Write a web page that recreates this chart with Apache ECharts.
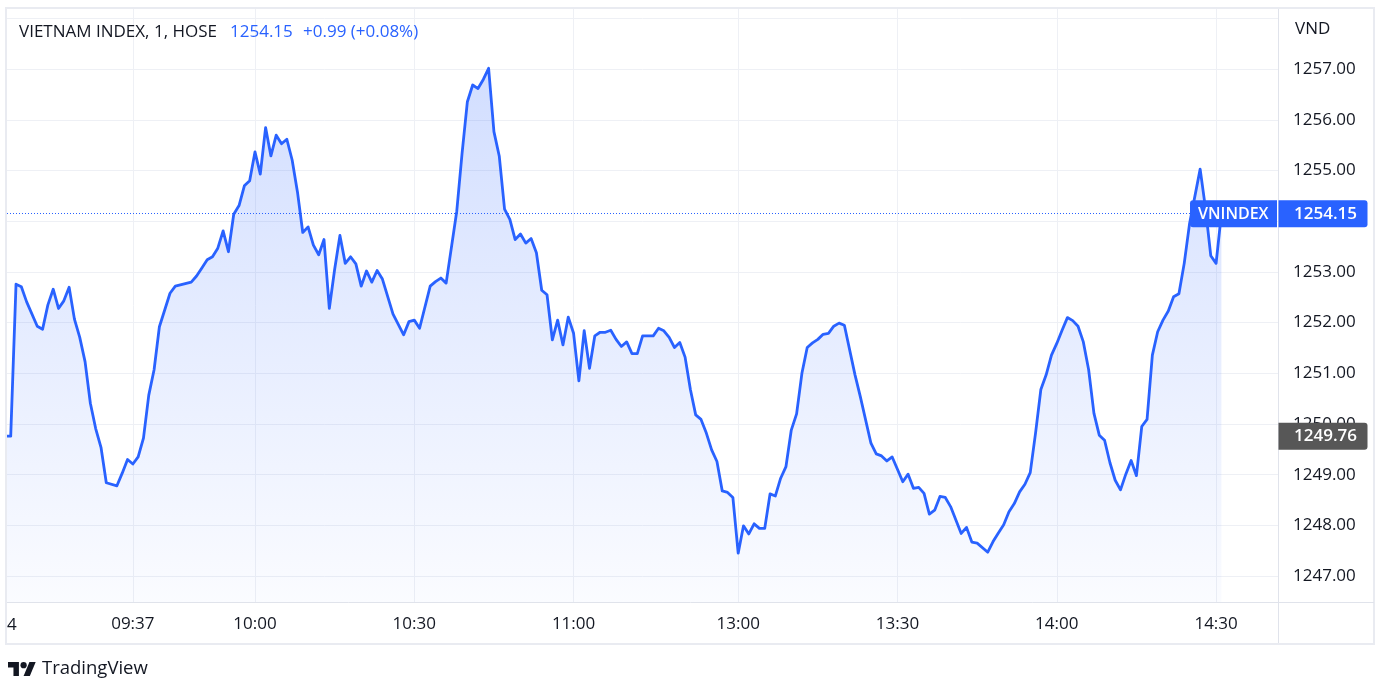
<!DOCTYPE html>
<html>
<head>
<meta charset="utf-8">
<script src="https://cdn.jsdelivr.net/npm/echarts@6/dist/echarts.min.js"></script>
<style>
html,body{margin:0;padding:0;background:#ffffff;}
#c{width:1389px;height:697px;}
</style>
</head>
<body>
<div id="c"></div>
<script>
// Bar position on the session clock: minutes from 10:00 (lunch break collapsed, 13:00 = 91)
const bars = [
  -47,-46,-45,-44,-43,-41,-40,-39,-38,-37,-36,-35,-34,-33,-32,-31,-30,-29,-28,-26,
  -25,-24,-23,-22,-21,-20,-19,-18,-17,-16,-15,-12,-11,-10,-9,-8,-7,-6,-5,-4,
  -3,-2,-1,0,1,2,3,4,5,6,7,8,9,10,11,12,13,14,15,16,
  17,18,19,20,21,22,23,24,26,28,29,30,31,33,34,35,36,38,39,40,
  41,42,43,44,45,46,47,48,49,50,51,52,53,54,55,56,57,58,59,60,
  61,62,63,64,65,66,67,68,69,70,71,72,73,75,76,77,78,79,80,81,
  82,83,84,85,86,87,88,89,90,91,92,93,94,95,96,97,98,99,100,101,
  102,103,104,105,106,107,108,109,110,111,113,114,116,117,118,119,120,122,123,124,
  125,126,127,128,129,130,131,133,134,135,136,138,139,140,141,142,143,144,145,146,
  147,148,149,150,151,152,153,154,155,156,157,158,159,160,161,162,163,164,165,166,
  167,168,169,170,171,172,173,174,175,176,178,179,180,181,182
];
const prices = [
  1249.76,1249.76,1252.76,1252.71,1252.41,1251.93,1251.87,1252.35,1252.66,1252.28,1252.43,1252.70,1252.07,1251.71,1251.23,1250.41,1249.91,1249.54,1248.84,1248.78,
  1249.03,1249.30,1249.21,1249.35,1249.72,1250.57,1251.07,1251.92,1252.25,1252.58,1252.72,1252.80,1252.92,1253.08,1253.24,1253.30,1253.47,1253.81,1253.40,1254.14,
  1254.31,1254.70,1254.80,1255.37,1254.93,1255.85,1255.29,1255.70,1255.53,1255.62,1255.21,1254.58,1253.78,1253.89,1253.53,1253.34,1253.64,1252.28,1253.05,1253.72,
  1253.17,1253.30,1253.16,1252.72,1253.02,1252.80,1253.03,1252.86,1252.17,1251.76,1252.02,1252.05,1251.89,1252.72,1252.81,1252.88,1252.78,1254.20,1255.34,1256.36,
  1256.69,1256.62,1256.80,1257.02,1255.77,1255.29,1254.24,1254.04,1253.64,1253.75,1253.57,1253.66,1253.38,1252.64,1252.55,1251.66,1252.05,1251.56,1252.11,1251.79,
  1250.85,1251.84,1251.10,1251.74,1251.81,1251.81,1251.85,1251.67,1251.53,1251.62,1251.39,1251.39,1251.74,1251.74,1251.89,1251.84,1251.71,1251.51,1251.61,1251.32,
  1250.68,1250.18,1250.09,1249.82,1249.49,1249.26,1248.68,1248.65,1248.55,1247.45,1247.99,1247.83,1248.03,1247.94,1247.94,1248.62,1248.58,1248.93,1249.16,1249.88,
  1250.20,1251.00,1251.51,1251.60,1251.67,1251.77,1251.79,1251.93,1251.99,1251.95,1250.97,1250.54,1249.62,1249.41,1249.37,1249.27,1249.35,1248.86,1249.01,1248.73,
  1248.75,1248.63,1248.22,1248.30,1248.57,1248.55,1248.37,1247.84,1247.96,1247.67,1247.65,1247.47,1247.68,1247.85,1248.01,1248.27,1248.43,1248.66,1248.81,1249.04,
  1249.82,1250.68,1250.97,1251.36,1251.59,1251.85,1252.10,1252.04,1251.93,1251.62,1251.07,1250.21,1249.78,1249.68,1249.24,1248.89,1248.70,1249.01,1249.28,1248.98,
  1249.95,1250.09,1251.36,1251.82,1252.05,1252.23,1252.51,1252.57,1253.17,1253.95,1255.03,1254.26,1253.32,1253.17,1254.15
];
const tickBars = [-23, 0, 30, 60, 91, 121, 151, 181];
const tickLabels = ['09:37', '10:00', '10:30', '11:00', '13:00', '13:30', '14:00', '14:30'];
const yGridValues = [1247, 1248, 1249, 1250, 1251, 1252, 1253, 1254, 1255, 1256, 1257, 1258];
const yLabelValues = [1247, 1248, 1249, 1250, 1251, 1252, 1253, 1254, 1255, 1256, 1257];
const lastPrice = 1254.15;
const crossPrice = 1249.76;
const seriesName = 'VNINDEX';
const titleText = 'VIETNAM INDEX, 1, HOSE';
const priceText = '1254.15';
const changeText = '+0.99 (+0.08%)';
const unitText = 'VND';
const edgeDayLabel = '4';
const brandText = 'TradingView';

const FONT = '"Open Sans", "Noto Sans", sans-serif';
const TXT = '#131722';
const BLUE = '#2962ff';
const GRID = '#eef0f5';

const chart = echarts.init(document.getElementById('c'), null, {renderer: 'canvas'});
const seriesData = bars.map((b, i) => [b, prices[i]]);

const X_MIN = -46.70, X_MAX = 192.66;
const Y_MIN = 1246.487, Y_MAX = 1258.19;

chart.setOption({
  animation: false,
  backgroundColor: '#ffffff',
  grid: {left: 7, right: 111, top: 9, bottom: 95, containLabel: false},
  xAxis: {
    type: 'value', min: X_MIN, max: X_MAX,
    axisLine: {show: false},
    axisTick: {show: false, customValues: tickBars},
    axisLabel: {
      customValues: tickBars,
      formatter: v => { const i = tickBars.indexOf(v); return i >= 0 ? tickLabels[i] : ''; },
      color: TXT, fontSize: 17, fontFamily: FONT, margin: 14
    },
    splitLine: {show: true, lineStyle: {color: GRID, width: 1}}
  },
  yAxis: {
    type: 'value', position: 'right', min: Y_MIN, max: Y_MAX,
    axisLine: {show: false},
    axisTick: {show: false, customValues: yGridValues},
    axisLabel: {
      customValues: yLabelValues,
      formatter: v => Number(v).toFixed(2),
      color: TXT, fontSize: 17, fontFamily: FONT, margin: 15, align: 'left'
    },
    splitLine: {show: true, lineStyle: {color: GRID, width: 1}}
  },
  series: [{
    name: seriesName,
    type: 'line',
    data: seriesData,
    showSymbol: false,
    clip: true,
    lineStyle: {color: BLUE, width: 2.8, join: 'round', cap: 'round'},
    areaStyle: {
      color: new echarts.graphic.LinearGradient(0, 0, 0, 1, [
        {offset: 0, color: 'rgba(41,98,255,0.30)'},
        {offset: 1, color: 'rgba(41,98,255,0.03)'}
      ])
    },
    markLine: {
      silent: true,
      symbol: ['none', 'none'],
      label: {show: false},
      lineStyle: {color: BLUE, type: [1, 2], width: 1},
      data: [{yAxis: lastPrice}]
    }
  }]
});

const yP = chart.convertToPixel({yAxisIndex: 0}, lastPrice);
const yC = chart.convertToPixel({yAxisIndex: 0}, crossPrice);
const xR = chart.convertToPixel({xAxisIndex: 0}, X_MAX);
const xL = chart.convertToPixel({xAxisIndex: 0}, X_MIN);
const yB = chart.convertToPixel({yAxisIndex: 0}, Y_MIN);

function txt(text, x, y, opts, z) {
  return {
    type: 'text', z: z || 100,
    style: Object.assign({
      text: text, x: x, y: y, fill: TXT,
      font: '17px ' + FONT,
      align: 'left', textAlign: 'left',
      verticalAlign: 'middle', textVerticalAlign: 'middle'
    }, opts || {})
  };
}

chart.setOption({
  graphic: [
    // outer frame and pane separators
    {type: 'rect', z: 90, shape: {x: 6, y: 8, width: 1368, height: 636}, style: {fill: null, stroke: '#e9ebf1', lineWidth: 2}},
    {type: 'line', z: 90, shape: {x1: xR + 0.5, y1: 9, x2: xR + 0.5, y2: 643}, style: {stroke: '#e0e3eb', lineWidth: 1}},
    {type: 'line', z: 90, shape: {x1: xL, y1: yB + 0.5, x2: 1374, y2: yB + 0.5}, style: {stroke: '#e0e3eb', lineWidth: 1}},
    // legend / title
    txt(titleText, 19, 32),
    txt(priceText, 230, 32, {fill: BLUE}),
    txt(changeText, 303, 32, {fill: BLUE}),
    txt(unitText, 1295, 29),
    // clipped day label at left edge of time scale
    txt(edgeDayLabel, 7, 625),
    // series name + last price label
    {type: 'rect', z: 110, shape: {x: 1190, y: yP - 13.5, width: 87, height: 27, r: [3, 0, 0, 3]}, style: {fill: BLUE}},
    txt(seriesName, 1198, yP + 0.5, {fill: '#ffffff', font: '600 16px ' + FONT}, 120),
    {type: 'rect', z: 110, shape: {x: 1278.5, y: yP - 13.5, width: 89, height: 27, r: [0, 3, 3, 0]}, style: {fill: BLUE}},
    txt(lastPrice.toFixed(2), 1294, yP + 0.5, {fill: '#ffffff', font: '600 17px ' + FONT}, 120),
    // crosshair price label
    {type: 'rect', z: 110, shape: {x: 1278.5, y: yC - 13.5, width: 89, height: 27, r: [0, 3, 3, 0]}, style: {fill: '#575757'}},
    txt(crossPrice.toFixed(2), 1294, yC + 0.5, {fill: '#ffffff', font: '600 17px ' + FONT}, 120),
    // TradingView brand
    {
      type: 'group', x: 8, y: 658.9, scaleX: 0.78, scaleY: 0.78, z: 100,
      children: [
        {type: 'polygon', shape: {points: [[0, 4], [14, 4], [14, 22], [7, 22], [7, 11], [0, 11]]}, style: {fill: TXT}},
        {type: 'circle', shape: {cx: 20, cy: 8, r: 4}, style: {fill: TXT}},
        {type: 'polygon', shape: {points: [[27.5, 4], [35.5, 4], [28, 22], [20, 22]]}, style: {fill: TXT}}
      ]
    },
    txt(brandText, 42, 669, {font: '18.5px ' + FONT})
  ]
});
</script>
</body>
</html>
